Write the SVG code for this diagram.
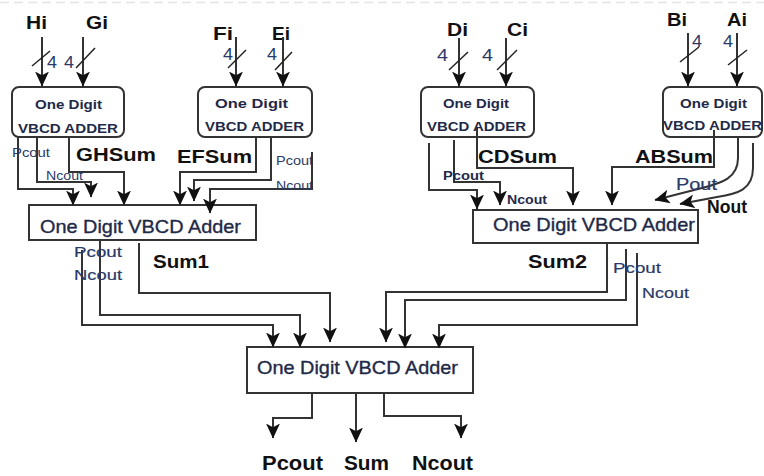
<svg xmlns="http://www.w3.org/2000/svg" width="764" height="476" viewBox="0 0 764 476">
<defs>
<marker id="ah" viewBox="0 0 14 14" refX="13.5" refY="7" markerWidth="15" markerHeight="15" markerUnits="userSpaceOnUse" orient="auto">
<path d="M0,0.5 L14,7 L0,13.5 L3.5,7 z" fill="#111"/>
</marker>
<style>
.bx{fill:#fff;stroke:#333;stroke-width:2}
.w{fill:none;stroke:#333;stroke-width:2}
.wa{fill:none;stroke:#333;stroke-width:2;marker-end:url(#ah)}
.sl{stroke:#222;stroke-width:1.5}
.bt{font-family:"Liberation Sans",Arial,sans-serif;font-weight:bold;font-size:12.5px;fill:#1f2a48}
.mt{font-family:"Liberation Sans",Arial,sans-serif;font-size:18.5px;fill:#1f2a48;stroke:#1f2a48;stroke-width:0.35}
.in{font-family:"Liberation Sans",Arial,sans-serif;font-weight:bold;font-size:19px;fill:#111}
.num{font-family:"Liberation Sans",Arial,sans-serif;font-size:17px;fill:#2b3a68}
.sm{font-family:"Liberation Sans",Arial,sans-serif;font-size:13.5px;fill:#2b3a68}
.smb{font-family:"Liberation Sans",Arial,sans-serif;font-weight:bold;font-size:12px;fill:#1f2a48}
.md{font-family:"Liberation Sans",Arial,sans-serif;font-size:15.5px;fill:#2b3a68;stroke:#2b3a68;stroke-width:0.2}
.lb{font-family:"Liberation Sans",Arial,sans-serif;font-weight:bold;font-size:19px;fill:#111}
</style>
</defs>
<rect width="764" height="476" fill="#fff"/>
<line x1="0" y1="2.5" x2="764" y2="2.5" stroke="#e4e4e4" stroke-width="1.5" stroke-dasharray="9,5"/>

<g id="inputs">
<text class="in" x="26" y="29" textLength="21" lengthAdjust="spacingAndGlyphs">Hi</text>
<text class="in" x="86" y="29" textLength="22" lengthAdjust="spacingAndGlyphs">Gi</text>
<text class="in" x="213" y="40" textLength="20" lengthAdjust="spacingAndGlyphs">Fi</text>
<text class="in" x="272" y="40" textLength="18" lengthAdjust="spacingAndGlyphs">Ei</text>
<text class="in" x="447" y="36" textLength="21" lengthAdjust="spacingAndGlyphs">Di</text>
<text class="in" x="507" y="36" textLength="21" lengthAdjust="spacingAndGlyphs">Ci</text>
<text class="in" x="667" y="26" textLength="20" lengthAdjust="spacingAndGlyphs">Bi</text>
<text class="in" x="727" y="26" textLength="20" lengthAdjust="spacingAndGlyphs">Ai</text>
<text class="num" x="47" y="68" textLength="10" lengthAdjust="spacingAndGlyphs">4</text>
<text class="num" x="64" y="68" textLength="10" lengthAdjust="spacingAndGlyphs">4</text>
<text class="num" x="223" y="60" textLength="10" lengthAdjust="spacingAndGlyphs">4</text>
<text class="num" x="267" y="60" textLength="10" lengthAdjust="spacingAndGlyphs">4</text>
<text class="num" x="437" y="61" textLength="11" lengthAdjust="spacingAndGlyphs">4</text>
<text class="num" x="482" y="61" textLength="11" lengthAdjust="spacingAndGlyphs">4</text>
<text class="num" x="692" y="47" textLength="10" lengthAdjust="spacingAndGlyphs">4</text>
<text class="num" x="723" y="47" textLength="10" lengthAdjust="spacingAndGlyphs">4</text>
</g>

<g id="GH">
<rect class="bx" x="12" y="87" width="112" height="50" rx="7"/>
<text class="bt" x="35" y="109" textLength="67" lengthAdjust="spacingAndGlyphs">One Digit</text>
<text class="bt" x="18" y="133" textLength="100" lengthAdjust="spacingAndGlyphs">VBCD ADDER</text>
</g>
<g id="EF">
<rect class="bx" x="198" y="87" width="114" height="50" rx="7"/>
<text class="bt" x="215" y="108" textLength="73" lengthAdjust="spacingAndGlyphs">One Digit</text>
<text class="bt" x="205" y="131" textLength="99" lengthAdjust="spacingAndGlyphs">VBCD ADDER</text>
</g>
<g id="CD">
<rect class="bx" x="421" y="87" width="113" height="50" rx="7"/>
<text class="bt" x="443" y="108" textLength="66" lengthAdjust="spacingAndGlyphs">One Digit</text>
<text class="bt" x="427" y="131" textLength="99" lengthAdjust="spacingAndGlyphs">VBCD ADDER</text>
</g>
<g id="AB">
<rect class="bx" x="663" y="87" width="99" height="50" rx="7"/>
<text class="bt" x="680" y="108" textLength="67" lengthAdjust="spacingAndGlyphs">One Digit</text>
<text class="bt" x="663" y="130" textLength="99" lengthAdjust="spacingAndGlyphs">VBCD ADDER</text>
</g>
<g id="Adder1">
<rect class="bx" x="29" y="205" width="227" height="35"/>
<text class="mt" x="40" y="233" textLength="201" lengthAdjust="spacingAndGlyphs">One Digit VBCD Adder</text>
</g>
<g id="Adder2">
<rect class="bx" x="473" y="210" width="225" height="33"/>
<text class="mt" x="493" y="231" textLength="202" lengthAdjust="spacingAndGlyphs">One Digit VBCD Adder</text>
</g>
<g id="Adder3">
<rect class="bx" x="247" y="347" width="226" height="46"/>
<text class="mt" x="257" y="374" textLength="201" lengthAdjust="spacingAndGlyphs">One Digit VBCD Adder</text>
</g>

<g id="connectors">
<path class="wa" d="M42,37 V86"/>
<path class="wa" d="M83,37 V86"/>
<path class="wa" d="M236,37 V86"/>
<path class="wa" d="M283,37 V86"/>
<path class="wa" d="M459,38 V86"/>
<path class="wa" d="M506,38 V86"/>
<path class="wa" d="M688,33 V86"/>
<path class="wa" d="M737,33 V86"/>
<line class="sl" x1="32" y1="66" x2="50" y2="51"/>
<line class="sl" x1="76" y1="68" x2="95" y2="48"/>
<line class="sl" x1="228" y1="68" x2="246" y2="50"/>
<line class="sl" x1="275" y1="70" x2="292" y2="52"/>
<line class="sl" x1="449" y1="70" x2="468" y2="52"/>
<line class="sl" x1="497" y1="70" x2="517" y2="50"/>
<line class="sl" x1="680" y1="62" x2="699" y2="47"/>
<line class="sl" x1="728" y1="65" x2="747" y2="50"/>

<path class="wa" d="M18,137 V189 H73 V205"/>
<path class="wa" d="M37,137 V182 H91 V197"/>
<path class="wa" d="M69,137 V172 H124 V205"/>
<path class="wa" d="M256,137 V172 H180 V205"/>
<path class="wa" d="M271,137 V180 H194 V201"/>
<path class="wa" d="M312,152 V189 H210 V213"/>

<path class="wa" d="M429,143 V190 H477 V209"/>
<path class="wa" d="M454,140 V182 H500 V205"/>
<path class="wa" d="M477,128 V168 H573 V205"/>
<path class="wa" d="M714,130 V167 H612 V205"/>
<path class="wa" d="M738,137 V158 C738,178 722,183 702,188 L655,200"/>
<path class="wa" d="M753,143 V168 C753,190 737,194 717,197 L680,204"/>

<path class="wa" d="M82,250 V325 H273 V347"/>
<path class="wa" d="M100,240 V315 H300 V347"/>
<path class="wa" d="M139,243 V293 H330 V342"/>
<path class="wa" d="M607,243 V292 H386 V342"/>
<path class="wa" d="M626,249 V300 H405 V348"/>
<path class="wa" d="M637,253 V325 H439 V348"/>

<path class="wa" d="M312,393 V418 H273 V438"/>
<path class="wa" d="M356,393 V442"/>
<path class="wa" d="M384,393 V416 H461 V438"/>
</g>

<g id="labels">
<text class="sm" x="12" y="157" textLength="38" lengthAdjust="spacingAndGlyphs">Pcout</text>
<text class="sm" x="46" y="180" textLength="37" lengthAdjust="spacingAndGlyphs">Ncout</text>
<text class="lb" x="76" y="161" textLength="80" lengthAdjust="spacingAndGlyphs">GHSum</text>
<text class="lb" x="177" y="163" textLength="75" lengthAdjust="spacingAndGlyphs">EFSum</text>
<text class="sm" x="276" y="165" textLength="37" lengthAdjust="spacingAndGlyphs">Pcout</text>
<text class="sm" x="276" y="190" textLength="37" lengthAdjust="spacingAndGlyphs">Ncout</text>
<text class="smb" x="443" y="180" textLength="41" lengthAdjust="spacingAndGlyphs">Pcout</text>
<text class="smb" x="507" y="204" textLength="40" lengthAdjust="spacingAndGlyphs">Ncout</text>
<text class="lb" x="478" y="163" textLength="79" lengthAdjust="spacingAndGlyphs">CDSum</text>
<text class="lb" x="635" y="163" textLength="78" lengthAdjust="spacingAndGlyphs">ABSum</text>
<text class="md" x="676" y="190" textLength="41" lengthAdjust="spacingAndGlyphs" style="font-size:16.5px">Pout</text>
<text class="lb" x="707" y="213" textLength="40" lengthAdjust="spacingAndGlyphs" style="font-size:18px">Nout</text>
<text class="md" x="74" y="257" textLength="48" lengthAdjust="spacingAndGlyphs">Pcout</text>
<text class="md" x="74" y="280" textLength="48" lengthAdjust="spacingAndGlyphs">Ncout</text>
<text class="lb" x="153" y="268" textLength="56" lengthAdjust="spacingAndGlyphs">Sum1</text>
<text class="lb" x="528" y="268" textLength="59" lengthAdjust="spacingAndGlyphs">Sum2</text>
<text class="md" x="613" y="273" textLength="48" lengthAdjust="spacingAndGlyphs">Pcout</text>
<text class="md" x="642" y="298" textLength="47" lengthAdjust="spacingAndGlyphs">Ncout</text>
<text class="lb" x="262" y="470" textLength="61" lengthAdjust="spacingAndGlyphs" style="font-size:20px">Pcout</text>
<text class="lb" x="344" y="470" textLength="45" lengthAdjust="spacingAndGlyphs" style="font-size:20px">Sum</text>
<text class="lb" x="412" y="470" textLength="61" lengthAdjust="spacingAndGlyphs" style="font-size:20px">Ncout</text>
</g>
</svg>
